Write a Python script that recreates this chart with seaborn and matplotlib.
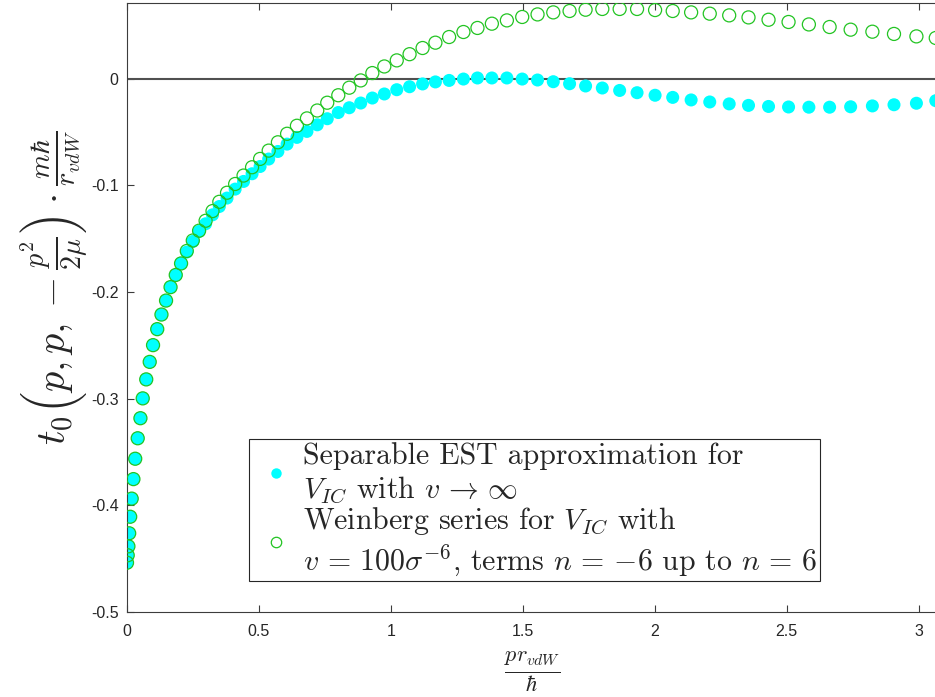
import numpy as np
import pandas as pd
import matplotlib
matplotlib.use("Agg")
import matplotlib.pyplot as plt
from matplotlib.lines import Line2D
import seaborn as sns

# Dimensionless momentum p r_vdW / hbar (shared grid of both series)
p_grid = [0.0, 0.0027, 0.0053, 0.0083, 0.0121, 0.0178, 0.0243, 0.0311, 0.0406, 0.0509,
          0.0596, 0.0729, 0.0861, 0.0987, 0.1146, 0.1306, 0.1480, 0.1651, 0.1848, 0.2049,
          0.2266, 0.2493, 0.2732, 0.2979, 0.3241, 0.3499, 0.3791, 0.4099, 0.4417, 0.4740,
          0.5044, 0.5370, 0.5719, 0.6068, 0.6440, 0.6820, 0.7211, 0.7590, 0.8008, 0.8425,
          0.8858, 0.9298, 0.9753, 1.0224, 1.0710, 1.1203, 1.1689, 1.2209, 1.2751, 1.3283,
          1.3829, 1.4398, 1.4979, 1.5560, 1.6156, 1.6774, 1.7381, 1.8015, 1.8672, 1.9332,
          2.0015, 2.0683, 2.1381, 2.2087, 2.2824, 2.3556, 2.4315, 2.5074, 2.5844, 2.6630,
          2.7427, 2.8251, 2.9070, 2.9920, 3.0653]

# Separable EST approximation, v -> infinity
t0_est = [-0.4538, -0.4468, -0.4384, -0.4262, -0.4107, -0.3937, -0.3754, -0.3563, -0.3371, -0.3183,
          -0.2997, -0.2819, -0.2655, -0.2498, -0.2348, -0.2211, -0.2080, -0.1954, -0.1840, -0.1732,
          -0.1625, -0.1526, -0.1432, -0.1360, -0.1276, -0.1198, -0.1119, -0.1035, -0.0963, -0.0891,
          -0.0823, -0.0753, -0.0682, -0.0613, -0.0550, -0.0494, -0.0432, -0.0375, -0.0317, -0.0272,
          -0.0228, -0.0181, -0.0143, -0.0103, -0.0075, -0.0049, -0.0030, -0.0016, -0.0003, 0.0007,
          0.0007, 0.0007, -0.0003, -0.0012, -0.0028, -0.0047, -0.0068, -0.0087, -0.0110, -0.0131,
          -0.0155, -0.0175, -0.0199, -0.0218, -0.0236, -0.0250, -0.0260, -0.0265, -0.0267, -0.0267,
          -0.0263, -0.0255, -0.0244, -0.0230, -0.0206]

# Weinberg series, v = 100 sigma^-6, terms n = -6 ... 6
t0_weinberg = [-0.4538, -0.4468, -0.4384, -0.4262, -0.4107, -0.3937, -0.3754, -0.3563, -0.3371, -0.3183,
               -0.2997, -0.2819, -0.2655, -0.2498, -0.2348, -0.2211, -0.2080, -0.1954, -0.1840, -0.1732,
               -0.1615, -0.1517, -0.1425, -0.1332, -0.1241, -0.1154, -0.1069, -0.0987, -0.0908, -0.0830,
               -0.0752, -0.0674, -0.0596, -0.0516, -0.0441, -0.0372, -0.0298, -0.0225, -0.0155, -0.0084,
               -0.0016, 0.0053, 0.0115, 0.0172, 0.0230, 0.0288, 0.0338, 0.0391, 0.0438, 0.0476,
               0.0516, 0.0547, 0.0579, 0.0603, 0.0622, 0.0635, 0.0647, 0.0654, 0.0654, 0.0654,
               0.0644, 0.0635, 0.0622, 0.0610, 0.0594, 0.0575, 0.0553, 0.0532, 0.0509, 0.0485,
               0.0460, 0.0441, 0.0420, 0.0397, 0.0382]

x_ticks = [0, 0.5, 1, 1.5, 2, 2.5, 3]
x_tick_labels = ["0", "0.5", "1", "1.5", "2", "2.5", "3"]
y_ticks = [-0.5, -0.4, -0.3, -0.2, -0.1, 0]
y_tick_labels = ["-0.5", "-0.4", "-0.3", "-0.2", "-0.1", "0"]

label_est = "Separable EST approximation for\n$V_{IC}$ with $v \\,\\to\\, \\infty$"
label_wb = ("Weinberg series for $V_{IC}$ with\n"
            "$v \\,=\\, 100\\sigma^{-6}$, terms $n \\,=\\, {-6}$ up to $n \\,=\\, 6$")

df = pd.DataFrame({"p": p_grid, "est": t0_est, "wb": t0_weinberg})

sns.set_theme(style="white")
plt.rcParams["font.family"] = ["Liberation Sans", "DejaVu Sans"]
plt.rcParams["mathtext.fontset"] = "cm"
plt.rcParams["axes.unicode_minus"] = False

CYAN = "#00ffff"
GREEN = "#22c422"
SPINE = "#3c3c3c"

fig = plt.figure(figsize=(9.35, 6.97), dpi=100)
W, H = 935, 697
ax = fig.add_axes([127 / W, (H - 612) / H, (937 - 127) / W, (612 - 3) / H])

ax.axhline(0, color="#505050", lw=1.5, zorder=1)

sns.scatterplot(data=df, x="p", y="est", ax=ax, marker="o", s=88,
                color=CYAN, edgecolor="none", linewidth=0, zorder=2, legend=False)
sns.scatterplot(data=df, x="p", y="wb", ax=ax, marker="o", s=88,
                facecolor="none", edgecolor=GREEN, linewidth=0.9, zorder=3, legend=False)

ax.set_xlim(0, 3.07)
ax.set_ylim(-0.5, 0.071)
ax.set_xticks(x_ticks)
ax.set_xticklabels(x_tick_labels)
ax.set_yticks(y_ticks)
ax.set_yticklabels(y_tick_labels)
ax.tick_params(direction="in", length=5, width=0.8, color=SPINE, labelsize=11.5,
               labelcolor="#262626", top=True, bottom=True, left=True, right=False)
ax.tick_params(axis="x", pad=9)
ax.tick_params(axis="y", pad=6)
for side in ["left", "bottom", "top"]:
    ax.spines[side].set_visible(True)
    ax.spines[side].set_color(SPINE)
    ax.spines[side].set_linewidth(0.8)
ax.spines["right"].set_visible(False)

ax.set_xlabel(r"$\frac{p r_{vdW}}{\hbar}$", fontsize=23, color="#262626", labelpad=8)
ax.set_ylabel(r"$t_0\left(p, p, -\frac{p^2}{2\mu}\right) \cdot \frac{m\hbar}{r_{vdW}}$",
              fontsize=29, color="#262626")
ax.yaxis.set_label_coords(-0.044, 0.533)

handles = [
    Line2D([], [], ls="none", marker="o", markersize=7.5, markerfacecolor=CYAN,
           markeredgecolor="none"),
    Line2D([], [], ls="none", marker="o", markersize=7.5, markerfacecolor="none",
           markeredgecolor=GREEN, markeredgewidth=0.9),
]
leg = ax.legend(handles, [label_est, label_wb], loc="lower left",
                bbox_to_anchor=((249 - 127) / 810, (612 - 581) / 609),
                borderaxespad=0, frameon=True, fancybox=False, framealpha=1,
                edgecolor="#262626", handlelength=1.6, handletextpad=0.1,
                labelspacing=0.0, borderpad=0.1,
                prop={"family": "cmr10", "size": 21.5})
leg.get_frame().set_linewidth(0.8)

fig.savefig("out.png", dpi=100)
